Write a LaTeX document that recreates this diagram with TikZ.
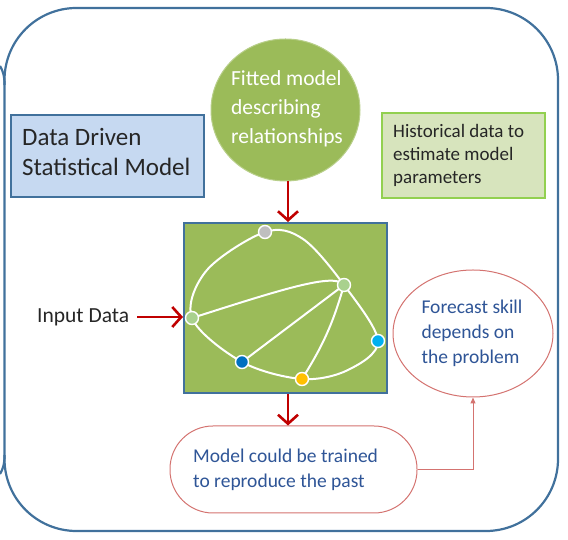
\documentclass[tikz,border=0pt]{standalone}
\usepackage{fontspec}
\setmainfont{Carlito}
\usetikzlibrary{arrows.meta,shapes.geometric}
\definecolor{framebl}{HTML}{41719C}
\definecolor{modelgrn}{HTML}{9BBB59}
\definecolor{circedge}{HTML}{B8CF8A}
\definecolor{ddfill}{HTML}{C6D9F1}
\definecolor{histfill}{HTML}{D7E4BD}
\definecolor{histedge}{HTML}{92D050}
\definecolor{thinred}{HTML}{D47370}
\definecolor{arrred}{HTML}{C00000}
\definecolor{bluetext}{HTML}{2F5597}
\definecolor{darktext}{HTML}{262626}
\definecolor{dotgray}{HTML}{BFBFBF}
\definecolor{dotcyan}{HTML}{00B0F0}
\definecolor{dotblue}{HTML}{0070C0}
\definecolor{dotorange}{HTML}{FFC000}
\definecolor{dotgreen}{HTML}{A9D18E}
\newcommand\txtsize[2]{\fontsize{#1}{#2}\selectfont}
\begin{document}
\begin{tikzpicture}[x=1pt,y=1pt,
    frame/.style={draw=framebl,line width=2.2pt},
    bigarrow/.style={draw=arrred,line width=2.6pt,-{Straight Barb[length=9pt,width=20pt]}},
    thinarrow/.style={draw=thinred,line width=1pt,-{Triangle[length=6pt,width=5pt]}},
    edge/.style={draw=white,line width=2pt},
    dot/.style={circle,draw=white,line width=1.4pt,minimum size=13pt,inner sep=0pt},
    label/.style={inner sep=0pt,align=left}]
    \useasboundingbox (0,0) rectangle (568,540);
        \draw[frame,rounded corners=72pt] (4.5,9) rectangle (558,532);
        \draw[frame] (0,474) to[out=-60,in=90] (4.5,455);
        \draw[frame] (0,66) to[out=60,in=-90] (4.5,85);
        \node[ellipse,fill=modelgrn,draw=circedge,line width=1pt,minimum width=149pt,minimum height=142pt,inner sep=0pt] (fit) at (285.5,430) {};
        \node[label,text=white,font=\txtsize{21.5}{29}] (fittext) at (287,431) {Fitted model\\describing\\relationships};
        \node[rectangle,fill=ddfill,draw=framebl,line width=1.5pt,minimum width=193pt,minimum height=82pt] (dd) at (107.5,384) {};
        \node[label,anchor=west,text=darktext,font=\txtsize{25}{30}] (ddtext) at (22,388) {Data Driven\\Statistical Model};
        \node[rectangle,fill=histfill,draw=histedge,line width=2pt,minimum width=163pt,minimum height=85pt] (hist) at (463.5,384.5) {};
        \node[label,anchor=west,text=darktext,font=\txtsize{19}{23}] (histtext) at (393,385) {Historical data to\\estimate model\\parameters};
        \node[rectangle,fill=modelgrn,draw=framebl,line width=2pt,minimum width=203pt,minimum height=170pt,inner sep=0pt] (sq) at (285.5,232) {};
        \node[label,anchor=west,text=darktext,font=\txtsize{21.5}{26}] (input) at (37,223) {Input Data};
        \node[ellipse,fill=white,draw=thinred,line width=1pt,minimum width=160pt,minimum height=127pt,inner sep=0pt] (skill) at (473,206.5) {};
        \node[label,text=bluetext,font=\txtsize{19.5}{25}] (skilltext) at (472,207) {Forecast skill\\depends on\\the problem};
        \node[rectangle,rounded corners=43pt,fill=white,draw=thinred,line width=1pt,minimum width=247pt,minimum height=87pt,inner sep=0pt] (past) at (293.5,70.5) {};
        \node[label,anchor=west,text=bluetext,font=\txtsize{19.5}{25}] (pasttext) at (193,70.5) {Model could be trained\\to reproduce the past};
        \coordinate (topin) at ([xshift=2.5pt]fit.south);
        \coordinate (botout) at ([xshift=2.5pt]sq.south);
        \draw[bigarrow] (topin) -- (topin |- sq.north);
        \draw[bigarrow] ([xshift=8pt]input.east) -- (input.east -| sq.west);
        \draw[bigarrow] (botout) -- (botout |- past.north);
        \draw[thinarrow] (past.east) -| (skill.south);
        \coordinate (gTop) at (265,308);
        \coordinate (gRight) at (344,255);
        \coordinate (gLeft) at (192,222);
        \coordinate (gCyan) at (378,199);
        \coordinate (gBlue) at (242,178);
        \coordinate (gOrange) at (302,161);
        \draw[edge] plot[smooth cycle,tension=0.55] coordinates {(gLeft) (207,270) (gTop) (303,301) (gRight) (gCyan) (348,170) (gOrange) (gBlue)};
        \draw[edge] (gLeft) .. controls (280,250) and (335,268) .. (gRight);
        \draw[edge] (gRight) -- (gBlue);
        \draw[edge] (gRight) to[bend left=8] (gOrange);
        \node[dot,fill=dotgray] (nTop) at (gTop) {};
        \node[dot,fill=dotgreen] (nRight) at (gRight) {};
        \node[dot,fill=dotgreen] (nLeft) at (gLeft) {};
        \node[dot,fill=dotcyan] (nCyan) at (gCyan) {};
        \node[dot,fill=dotblue] (nBlue) at (gBlue) {};
        \node[dot,fill=dotorange] (nOrange) at (gOrange) {};
    \end{tikzpicture}
\end{document}
